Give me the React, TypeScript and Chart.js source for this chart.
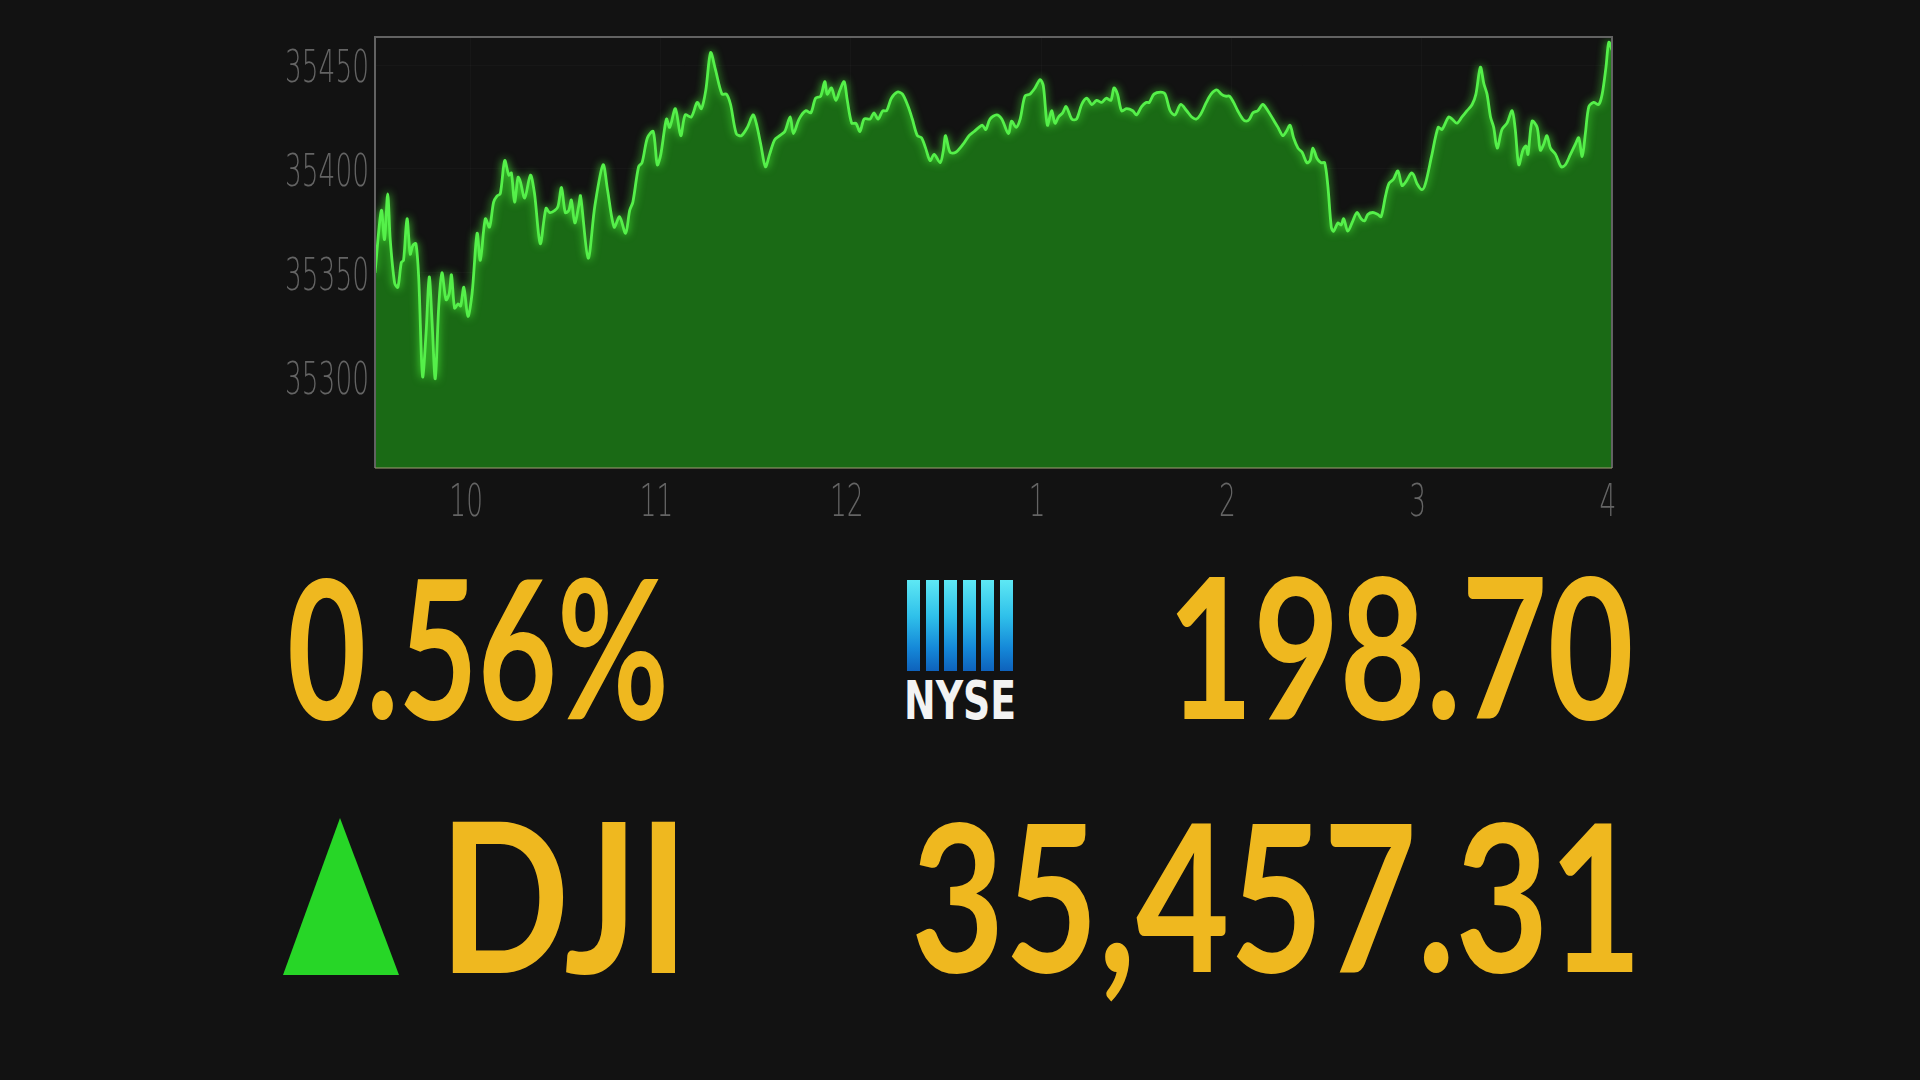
import React, { useEffect, useLayoutEffect, useRef, useState } from "react";
import { Chart, registerables } from "chart.js";

Chart.register(...registerables);

// Minutes after the 9:30 open for each traced point
const MINUTES: number[] = [
  0.0, 2.0, 3.0, 4.0, 4.8, 6.2, 7.2, 8.3, 9.0, 10.1, 11.1, 11.9, 12.9, 13.8, 15.0, 16.1, 17.1, 18.0, 19.0, 20.1,
  21.1, 22.4, 23.4, 24.1, 25.1, 26.2, 27.0, 28.0, 29.3, 30.6, 32.2, 33.2, 34.8, 36.1, 37.4, 38.5, 39.5, 40.9, 42.2, 43.0,
  44.0, 45.1, 45.8, 47.2, 49.0, 50.3, 52.1, 53.9, 55.1, 56.7, 57.7, 58.8, 60.0, 61.1, 61.9, 63.0, 64.2,
  64.8, 67.2, 69.3, 71.9, 73.3, 75.4, 77.1, 79.0, 80.3, 81.3, 83.1, 84.2, 85.9, 87.7, 89.0, 90.1, 91.9, 92.9, 94.7, 96.4,
  97.8, 99.7, 101.6, 102.9, 104.3, 105.8, 107.3, 109.4, 110.8, 112.1, 113.9, 115.5, 117.4, 119.2, 120.2, 121.6, 123.1, 124.4, 126.0, 127.6, 129.2,
  130.9, 131.9, 133.7, 135.8, 137.4, 138.9, 140.5, 141.8, 142.6, 143.9, 145.3, 146.6, 147.9, 148.9, 150.3, 151.6, 152.9, 154.2, 156.1, 157.3,
  158.6, 160.1, 161.3, 162.8, 164.7, 166.3, 168.1, 169.4, 171.0, 172.3, 173.6, 175.0, 176.3, 178.2, 179.2, 179.9, 181.3, 183.1, 185.5, 187.3,
  188.9, 190.4, 191.5, 192.6,
  193.9, 196.0, 197.6, 199.7, 200.7, 202.1, 203.4, 204.9, 206.5, 208.1, 209.7, 210.7, 212.0, 213.3, 214.4, 215.5, 216.8, 217.9, 219.7, 221.2,
  222.8, 224.4, 226.0, 227.5, 229.1, 230.5, 232.0, 233.0, 234.1, 235.4, 237.0, 238.9, 240.1, 241.7, 243.1, 244.1, 245.6, 247.7, 249.1, 250.7,
  252.2, 254.0, 255.9, 257.5,
  258.9, 260.2, 262.1, 263.6, 265.4, 266.8, 268.2, 269.4, 270.7, 272.0, 273.6, 274.7, 275.7, 276.8, 278.3, 279.9, 281.5, 283.1, 284.7, 286.2,
  287.3, 288.5, 289.6, 291.0, 292.3, 293.8, 294.8, 295.7, 297.0, 298.3, 299.4, 300.4, 301.5, 302.2, 303.6, 304.6, 305.4, 306.7, 308.3, 309.6,
  310.9, 312.0, 313.0, 314.6, 316.2, 317.2, 318.6, 319.7, 321.1, 322.5,
  323.8, 325.1, 326.7, 327.5, 328.5, 330.1, 331.2, 333.1, 335.2, 336.4, 338.5, 339.6, 341.1, 342.7, 344.3, 345.9, 347.1, 348.5, 349.6, 350.6,
  351.7, 352.7, 353.8, 355.3, 356.9, 358.5, 359.5, 360.6, 361.9, 362.9, 363.5, 364.8, 366.4, 367.4, 368.5, 369.5, 370.6, 372.2, 374.0, 375.3,
  376.9, 378.5, 379.5, 380.6, 381.6, 382.7, 384.2, 385.8, 386.9, 388.1, 389.0, 390.0,
];

// Dow Jones Industrial Average level at each point
const DOW_VALUES: number[] = [
  35350, 35380, 35366, 35388, 35366, 35345, 35343, 35355, 35356, 35376, 35359, 35363, 35364, 35347, 35300, 35321, 35348, 35326, 35299, 35334,
  35350, 35337, 35340, 35349, 35333, 35335, 35334, 35343, 35329, 35340, 35369, 35356, 35376, 35372, 35384, 35387, 35388, 35404, 35397, 35398,
  35384, 35396, 35394, 35386, 35397, 35388, 35364, 35381, 35379, 35380, 35382, 35391, 35379, 35380, 35385, 35374, 35382,
  35387, 35357, 35382, 35402, 35390, 35372, 35377, 35369, 35380, 35384, 35401, 35403, 35415, 35418, 35402, 35407, 35424, 35420, 35429, 35416,
  35426, 35425, 35432, 35429, 35438, 35456, 35448, 35436, 35436, 35431, 35417, 35416, 35420, 35426, 35422, 35412, 35401, 35407, 35414, 35416, 35418,
  35425, 35417, 35424, 35428, 35427, 35434, 35435, 35442, 35436, 35439, 35433, 35438, 35442, 35433, 35422, 35422, 35418, 35424, 35424, 35427,
  35424, 35428, 35428, 35434, 35437, 35436, 35430, 35424, 35416, 35415, 35410, 35404, 35407, 35403, 35409, 35416, 35408, 35408, 35412, 35416,
  35418, 35420, 35421, 35419,
  35424, 35426, 35424, 35417, 35423, 35420, 35424, 35435, 35436, 35439, 35443, 35440, 35421, 35428, 35422, 35425, 35427, 35430, 35424, 35424,
  35431, 35434, 35431, 35433, 35432, 35434, 35433, 35439, 35436, 35428, 35429, 35428, 35426, 35430, 35432, 35432, 35436, 35437, 35436, 35428,
  35426, 35431, 35428, 35425,
  35424, 35426, 35432, 35436, 35438, 35436, 35435, 35435, 35432, 35428, 35424, 35423, 35424, 35427, 35428, 35431, 35428, 35424, 35420, 35416,
  35418, 35421, 35415, 35410, 35408, 35403, 35404, 35410, 35405, 35403, 35403, 35392, 35372, 35370, 35374, 35373, 35376, 35370, 35375, 35379,
  35376, 35375, 35378, 35379, 35378, 35377, 35387, 35393, 35395, 35399,
  35392, 35394, 35398, 35397, 35393, 35390, 35393, 35406, 35420, 35419, 35425, 35424, 35422, 35425, 35428, 35431, 35436, 35449, 35441, 35436,
  35425, 35420, 35410, 35419, 35422, 35428, 35419, 35402, 35409, 35411, 35407, 35423, 35420, 35409, 35412, 35416, 35410, 35407, 35401, 35402,
  35407, 35412, 35415, 35406, 35417, 35430, 35432, 35431, 35436, 35449, 35461, 35457.31,
];

const HOUR_TICKS: number[] = [30, 90, 150, 210, 270, 330, 390];
const HOUR_LABELS: string[] = ["10", "11", "12", "1", "2", "3", "4"];
const PRICE_TICKS: number[] = [35300, 35350, 35400, 35450];
const PRICE_MIN = 35256;
const PRICE_MAX = 35463.5;
const SESSION_MINUTES = 390;

const PCT_CHANGE = "0.56%";
const POINT_CHANGE = "198.70";
const INDEX_NAME = "DJI";
const CLOSE_LEVEL = "35,457.31";
const EXCHANGE = "NYSE";

const BG = "#121212";
const YELLOW = "#efb81f";
const BIG_FAMILY = "Lato, 'Open Sans', sans-serif";
const BIG_WEIGHT = 700;
const TICK_FAMILY = "'DejaVu Sans', sans-serif";
const TICK_COLOR = "#646464";
const TICK_CONDENSE = 0.6;

type Box = { left: number; right: number; top: number; bottom: number };

function FitText(props: {
  text: string;
  box: Box;
  color: string;
  family: string;
  weight: number | string;
  refChars: string;
}) {
  const { text, box, color, family, weight, refChars } = props;
  const [style, setStyle] = useState<React.CSSProperties | null>(null);
  useLayoutEffect(() => {
    const ctx = document.createElement("canvas").getContext("2d")!;
    const base = 100;
    ctx.font = `${weight} ${base}px ${family}`;
    const m = ctx.measureText(text);
    const r = ctx.measureText(refChars);
    const inkAsc = r.actualBoundingBoxAscent;
    const fontSize = ((box.bottom - box.top) / inkAsc) * base;
    const k = fontSize / base;
    const inkL = m.actualBoundingBoxLeft * k;
    const inkR = m.actualBoundingBoxRight * k;
    const sx = (box.right - box.left) / (inkL + inkR);
    const fAsc = m.fontBoundingBoxAscent * k;
    const fDesc = m.fontBoundingBoxDescent * k;
    setStyle({
      position: "absolute",
      left: box.left + sx * inkL,
      top: box.bottom - fAsc,
      fontSize,
      lineHeight: `${fAsc + fDesc}px`,
      height: fAsc + fDesc,
      transform: `scaleX(${sx})`,
      transformOrigin: "0 0",
      whiteSpace: "nowrap",
      margin: 0,
      padding: 0,
    });
  }, [text, box.left, box.right, box.top, box.bottom, family, weight, refChars]);
  return (
    <span
      style={{
        ...(style || { position: "absolute", visibility: "hidden" }),
        color,
        fontFamily: family,
        fontWeight: weight as any,
      }}
    >
      {text}
    </span>
  );
}

function NyseLogo() {
  const bars = [0, 1, 2, 3, 4, 5];
  return (
    <div>
      <div
        style={{
          position: "absolute",
          left: 907,
          top: 580,
          width: 106,
          height: 91,
          display: "flex",
          justifyContent: "space-between",
        }}
      >
        {bars.map((b) => (
          <div
            key={b}
            style={{
              width: 13,
              height: "100%",
              background: "linear-gradient(to bottom, #5ee8f4 0%, #2fc0ea 40%, #1588d8 75%, #0e62bc 100%)",
            }}
          />
        ))}
      </div>
      <FitText
        text={EXCHANGE}
        box={{ left: 907, right: 1013, top: 681, bottom: 720 }}
        color="#f3f3f3"
        family="'DejaVu Sans Condensed', 'DejaVu Sans', sans-serif"
        weight={700}
        refChars="N"
      />
    </div>
  );
}

// Draw the library's own tick label items, horizontally condensed around each anchor
function condenseLabels(scale: any, sx: number, dx: number, dy: number) {
  if (scale.__condensed) return;
  scale.__condensed = true;
  const original = scale.drawLabels.bind(scale);
  scale.drawLabels = function (area: any) {
    if (typeof this.getLabelItems !== "function") return original(area);
    const ctx = this.ctx;
    const items = this.getLabelItems(area);
    for (const item of items) {
      const o = item.options || {};
      const tr = o.translation || [0, 0];
      ctx.save();
      ctx.translate(tr[0] + dx, tr[1] + dy);
      if (o.rotation) ctx.rotate(o.rotation);
      ctx.scale(sx, 1);
      ctx.font = item.font.string;
      ctx.fillStyle = o.color;
      ctx.textAlign = o.textAlign;
      ctx.textBaseline = o.textBaseline;
      const lines = Array.isArray(item.label) ? item.label : [item.label];
      let y = item.textOffset;
      for (const line of lines) {
        ctx.fillText(String(line), 0, y);
        y += item.font.lineHeight;
      }
      ctx.restore();
    }
  };
}

function DowChart() {
  const ref = useRef<HTMLCanvasElement>(null);
  useEffect(() => {
    const n = Math.min(MINUTES.length, DOW_VALUES.length);
    const points = [] as { x: number; y: number }[];
    for (let i = 0; i < n; i++) points.push({ x: MINUTES[i], y: DOW_VALUES[i] });

    const glow = {
      id: "glow",
      beforeDatasetDraw(chart: any) {
        const c = chart.ctx;
        c.save();
        c.shadowColor = "rgba(80,255,60,0.9)";
        c.shadowBlur = 9;
      },
      afterDatasetDraw(chart: any) {
        chart.ctx.restore();
      },
    };
    const frame = {
      id: "frame",
      afterDraw(chart: any) {
        const { left, right, top, bottom } = chart.chartArea;
        const c = chart.ctx;
        c.save();
        c.lineWidth = 2;
        c.strokeStyle = "#626262";
        c.beginPath();
        c.moveTo(left, bottom);
        c.lineTo(left, top);
        c.lineTo(right, top);
        c.lineTo(right, bottom);
        c.stroke();
        c.strokeStyle = "rgba(150,150,110,0.55)";
        c.beginPath();
        c.moveTo(left, bottom);
        c.lineTo(right, bottom);
        c.stroke();
        c.restore();
      },
    };

    const chart = new Chart(ref.current as HTMLCanvasElement, {
      type: "line",
      data: {
        datasets: [
          {
            data: points,
            borderColor: "#55f04a",
            borderWidth: 2.8,
            backgroundColor: "#1a6a15",
            fill: "start",
            pointRadius: 0,
            tension: 0.3,
          },
        ],
      },
      options: {
        animation: false,
        responsive: true,
        maintainAspectRatio: false,
        parsing: false as any,
        layout: { padding: { top: 37, right: 308, left: 0, bottom: 0 } },
        plugins: { legend: { display: false }, tooltip: { enabled: false } },
        scales: {
          x: {
            type: "linear",
            min: 0,
            max: SESSION_MINUTES,
            z: 1,
            afterBuildTicks: (s: any) => {
              s.ticks = HOUR_TICKS.map((v) => ({ value: v }));
            },
            afterFit: (s: any) => {
              s.height = 92;
              condenseLabels(s, TICK_CONDENSE, -4, 0);
            },
            ticks: {
              autoSkip: false,
              maxRotation: 0,
              padding: 10,
              color: TICK_COLOR,
              font: { family: TICK_FAMILY, size: 44, weight: "300" as any },
              callback: (_v: any, i: number) => HOUR_LABELS[i],
            },
            grid: { color: "rgba(255,255,255,0.022)", drawTicks: false },
            border: { display: false },
          },
          y: {
            type: "linear",
            min: PRICE_MIN,
            max: PRICE_MAX,
            z: 1,
            afterBuildTicks: (s: any) => {
              s.ticks = PRICE_TICKS.map((v) => ({ value: v }));
            },
            afterFit: (s: any) => {
              s.width = 375;
              condenseLabels(s, TICK_CONDENSE, 0, 6);
            },
            ticks: {
              padding: 6,
              color: TICK_COLOR,
              font: { family: TICK_FAMILY, size: 44, weight: "300" as any },
              callback: (v: any) => String(v),
            },
            grid: { color: "rgba(255,255,255,0.022)", drawTicks: false },
            border: { display: false },
          },
        },
      },
      plugins: [glow, frame],
    });
    return () => chart.destroy();
  }, []);
  return (
    <div style={{ position: "absolute", left: 0, top: 0, width: 1920, height: 560 }}>
      <canvas ref={ref} />
    </div>
  );
}

export default function App() {
  return (
    <div
      style={{
        position: "fixed",
        left: 0,
        top: 0,
        width: 1920,
        height: 1080,
        background: BG,
        overflow: "hidden",
      }}
    >
      <DowChart />
      <FitText
        text={PCT_CHANGE}
        box={{ left: 290, right: 665, top: 578, bottom: 720 }}
        color={YELLOW}
        family={BIG_FAMILY}
        weight={BIG_WEIGHT}
        refChars="0"
      />
      <NyseLogo />
      <FitText
        text={POINT_CHANGE}
        box={{ left: 1176, right: 1631, top: 577, bottom: 720 }}
        color={YELLOW}
        family={BIG_FAMILY}
        weight={BIG_WEIGHT}
        refChars="0"
      />
      <svg
        style={{ position: "absolute", left: 0, top: 0 }}
        width={1920}
        height={1080}
        viewBox="0 0 1920 1080"
      >
        <polygon points="340,818 283,975 399,975" fill="#27d627" />
      </svg>
      <FitText
        text={INDEX_NAME}
        box={{ left: 453, right: 676, top: 823, bottom: 973 }}
        color={YELLOW}
        family={BIG_FAMILY}
        weight={BIG_WEIGHT}
        refChars="D"
      />
      <FitText
        text={CLOSE_LEVEL}
        box={{ left: 916, right: 1633, top: 823, bottom: 973 }}
        color={YELLOW}
        family={BIG_FAMILY}
        weight={BIG_WEIGHT}
        refChars="0"
      />
    </div>
  );
}
